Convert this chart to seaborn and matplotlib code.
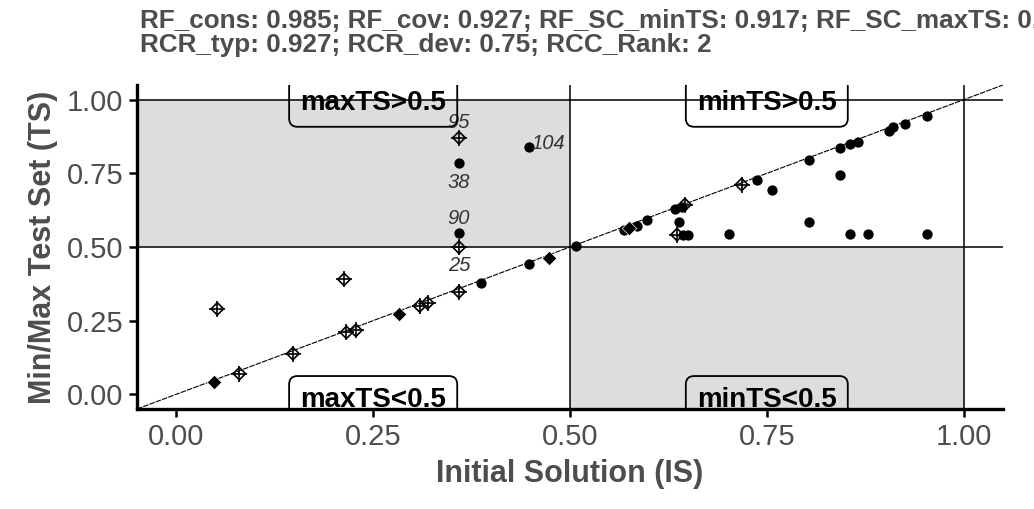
import numpy as np
import pandas as pd
import seaborn as sns
import matplotlib.pyplot as plt

sns.set_style('ticks')
plt.rcParams['font.family'] = ['Liberation Sans', 'DejaVu Sans']

# cases with a solid dot
dot_x = [0.359, 0.359, 0.448, 0.387, 0.448, 0.508, 0.568, 0.585, 0.598, 0.634, 0.642,
         0.638, 0.643, 0.650, 0.702, 0.737, 0.757, 0.803, 0.803, 0.843, 0.843, 0.856,
         0.866, 0.856, 0.878, 0.905, 0.910, 0.925, 0.953, 0.953]
dot_y = [0.784, 0.548, 0.841, 0.379, 0.441, 0.502, 0.558, 0.572, 0.590, 0.628, 0.636,
         0.585, 0.542, 0.542, 0.544, 0.727, 0.693, 0.795, 0.584, 0.743, 0.837, 0.849,
         0.857, 0.544, 0.544, 0.894, 0.906, 0.919, 0.945, 0.544]

# cases drawn as diamond-plus
dp_x = [0.359, 0.359, 0.052, 0.213, 0.080, 0.148, 0.216, 0.228, 0.309, 0.319, 0.359,
        0.636, 0.646, 0.718]
dp_y = [0.871, 0.499, 0.290, 0.390, 0.070, 0.138, 0.210, 0.217, 0.300, 0.310, 0.348,
        0.542, 0.644, 0.712]

# overlapping diamond-plus cases (look filled)
ov_x = [0.048, 0.283, 0.473, 0.575]
ov_y = [0.041, 0.274, 0.464, 0.566]

# labelled cases
lab_txt = ['95', '38', '90', '25', '104']
lab_x = [0.359, 0.359, 0.359, 0.359, 0.448]
lab_y = [0.871, 0.784, 0.548, 0.499, 0.841]

quad_txt = ['maxTS>0.5', 'minTS>0.5', 'maxTS<0.5', 'minTS<0.5']
quad_x = [0.25, 0.75, 0.25, 0.75]
quad_y = [0.99, 0.99, -0.02, -0.02]

title = ("RF_cons: 0.985; RF_cov: 0.927; RF_SC_minTS: 0.917; RF_SC_maxTS: 0.951\n"
         "RCR_typ: 0.927; RCR_dev: 0.75; RCC_Rank: 2")

dots = pd.DataFrame({'IS': dot_x, 'TS': dot_y})
dps = pd.DataFrame({'IS': dp_x, 'TS': dp_y})
ovs = pd.DataFrame({'IS': ov_x, 'TS': ov_y})

fig, ax = plt.subplots(figsize=(10.34, 5.09), dpi=100)
fig.subplots_adjust(left=0.1325, right=0.970, bottom=0.1965, top=0.833)
ax.set(xlim=(-0.05, 1.05), ylim=(-0.05, 1.05))

gray = '#DDDDDD'
ax.axhspan(0.5, 1.0, xmin=0, xmax=0.55 / 1.1, color=gray, lw=0, zorder=0)
ax.axvspan(0.5, 1.0, ymin=0, ymax=0.55 / 1.1, color=gray, lw=0, zorder=0)
for v in [0.5, 1.0]:
    ax.axhline(v, color='black', lw=1.1, zorder=1)
    ax.axvline(v, color='black', lw=1.1, zorder=1)
ax.plot([-0.05, 1.05], [-0.05, 1.05], color='black', lw=0.8, dashes=(5, 1), zorder=2)

sns.scatterplot(data=dots, x='IS', y='TS', color='black', s=55, linewidth=0, ax=ax, zorder=3)
sns.scatterplot(data=dps, x='IS', y='TS', marker='D', s=40, facecolor='none',
                edgecolor='black', linewidth=1.2, ax=ax, zorder=3)
sns.scatterplot(data=dps, x='IS', y='TS', marker='+', s=130, color='black',
                linewidth=1.2, ax=ax, zorder=3)
sns.scatterplot(data=ovs, x='IS', y='TS', marker='D', s=55, color='black',
                linewidth=0.5, ax=ax, zorder=3)

offs = [(0, 11), (0, -14), (0, 10.5), (0, -13), (2, 2)]
for t, x, y, o in zip(lab_txt, lab_x, lab_y, offs):
    ax.annotate(t, xy=(x, y), xytext=o, textcoords='offset points',
                ha='left' if t == '104' else 'center', va='center',
                fontsize=14.5, style='italic', color='#333333', zorder=4)

for t, x, y in zip(quad_txt, quad_x, quad_y):
    ax.text(x, y, t, ha='center', va='center', fontsize=20, fontweight='bold',
            color='black', clip_on=True, zorder=5,
            bbox=dict(boxstyle='round,pad=0.4,rounding_size=0.3', fc='none',
                      ec='black', lw=1.3))

ax.set_xticks([0, 0.25, 0.5, 0.75, 1.0])
ax.set_yticks([0, 0.25, 0.5, 0.75, 1.0])
ax.set_xticklabels(['0.00', '0.25', '0.50', '0.75', '1.00'])
ax.set_yticklabels(['0.00', '0.25', '0.50', '0.75', '1.00'])
ax.tick_params(labelsize=21, labelcolor='#4D4D4D', color='black', width=1.8,
               length=6, direction='out', pad=4)
ax.set_xlabel('Initial Solution (IS)', fontsize=22, fontweight='bold', color='#4D4D4D', labelpad=6)
ax.set_ylabel('Min/Max Test Set (TS)', fontsize=22, fontweight='bold', color='#4D4D4D', labelpad=6)
sns.despine(ax=ax)
for s in ['left', 'bottom']:
    ax.spines[s].set_linewidth(2.4)
    ax.spines[s].set_color('black')

# the first title line runs past the right edge, as in the reference
fig.text(140 / 1034, 0.982, title, ha='left', va='top', fontsize=18.8,
         fontweight='bold', color='#4D4D4D', linespacing=1.0)

fig.savefig('out.png', dpi=100)
